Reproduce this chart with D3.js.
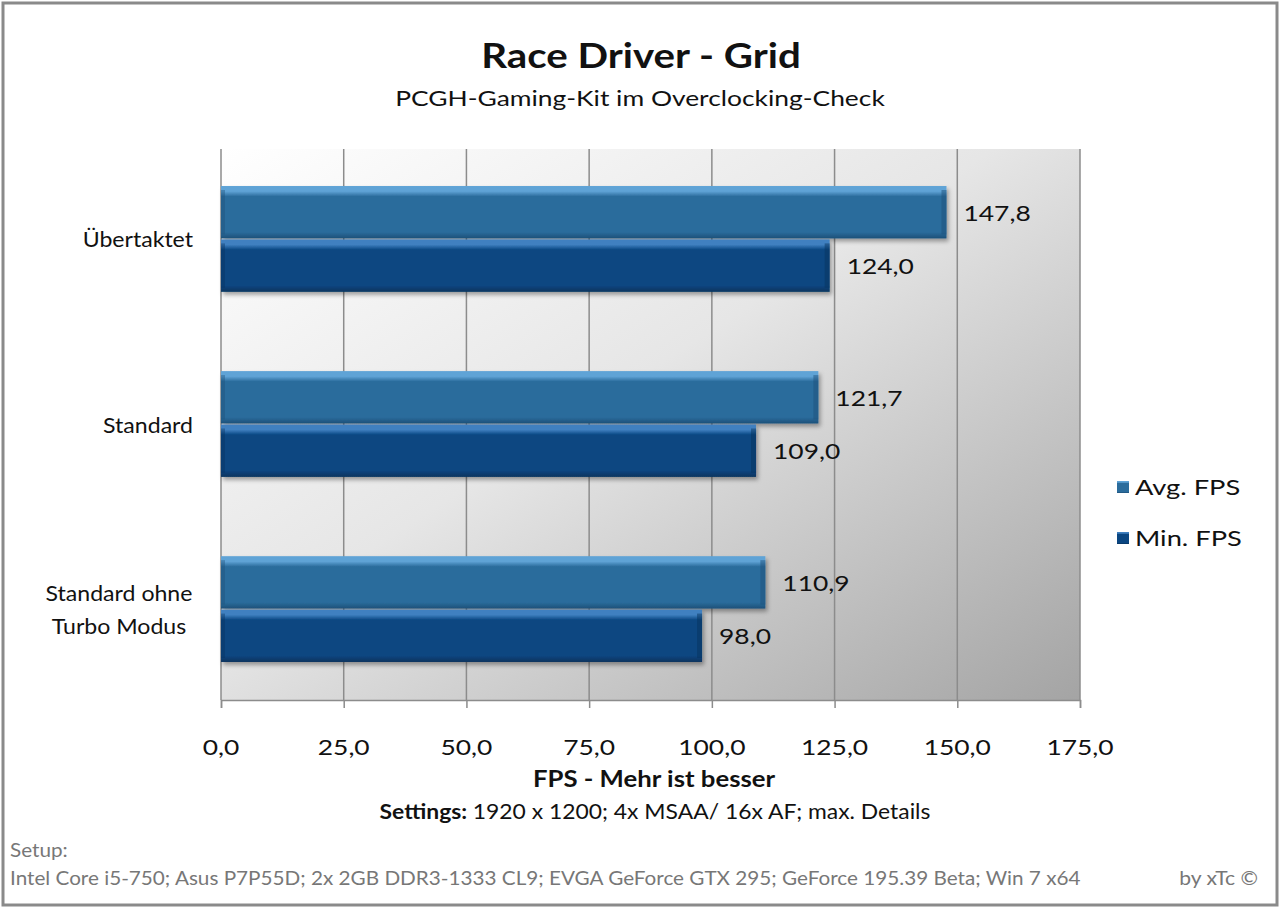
<!DOCTYPE html>
<html><head><meta charset="utf-8">
<script src="https://cdn.jsdelivr.net/npm/d3@7"></script>
<style>body{margin:0;background:#fff;} svg{display:block;font-family:Lato,"Open Sans",sans-serif;}</style>
</head><body><svg id="c" width="1280" height="910"></svg>
<script>
const categories = ["Übertaktet", "Standard", "Standard ohne|Turbo Modus"];
const seriesNames = ["Avg. FPS", "Min. FPS"];
const avgFps = [147.8, 121.7, 110.9];
const minFps = [124.0, 109.0, 98.0];
const tickValues = [0, 25, 50, 75, 100, 125, 150, 175];
const colors = {"Avg. FPS": ["#5fa3d6", "#2b6c9c", "#1d5079"], "Min. FPS": ["#3f80c0", "#0a4681", "#07335e"]};

const svg = d3.select("#c");
const defs = svg.append("defs");
svg.append("rect").attr("x", 3).attr("y", 3).attr("width", 1274).attr("height", 902)
  .attr("fill", "#fff").attr("stroke", "#8a8a8a").attr("stroke-width", 3);

const L = 221, R = 1080, T = 149, B = 700;
const x = d3.scaleLinear().domain([0, 175]).range([L, R]);
const y0 = d3.scaleBand().domain(categories).range([T, B]).paddingInner(0.423).paddingOuter(0.2);
const y1 = d3.scaleBand().domain(seriesNames).range([0, y0.bandwidth()]);

function txt(parent, tx, ty, size, sx, anchor, weight, fill) {
  return parent.append("text").attr("transform", `translate(${tx},${ty}) scale(${sx},1)`)
    .attr("text-anchor", anchor).attr("font-size", size).attr("font-weight", weight || "normal")
    .attr("fill", fill || "#111");
}

const bg = defs.append("linearGradient").attr("id", "bg").attr("x1", 0).attr("y1", 0).attr("x2", 1).attr("y2", 1);
bg.append("stop").attr("offset", "0%").attr("stop-color", "#ffffff");
bg.append("stop").attr("offset", "45%").attr("stop-color", "#e6e6e6");
bg.append("stop").attr("offset", "100%").attr("stop-color", "#a4a4a4");
svg.append("rect").attr("x", L).attr("y", T).attr("width", R - L).attr("height", B - T).attr("fill", "url(#bg)");

svg.append("g").selectAll("line").data(tickValues).join("line")
  .attr("x1", d => x(d)).attr("x2", d => x(d)).attr("y1", T).attr("y2", B)
  .attr("stroke", "#8c8c8c").attr("stroke-width", 1.5);

const fmt = d => d.toFixed(1).replace(".", ",");
const ax = svg.append("g").attr("transform", `translate(0,${B})`)
  .call(d3.axisBottom(x).tickValues(tickValues).tickFormat("").tickSize(8));
ax.select(".domain").attr("stroke", "#8c8c8c").attr("stroke-width", 1.5);
ax.selectAll(".tick line").attr("stroke", "#8c8c8c").attr("stroke-width", 1.5);
const tickG = svg.append("g");
tickValues.forEach(v => txt(tickG, x(v), 755, 22, 1.2, "middle").text(fmt(v)));

seriesNames.forEach((s, i) => {
  const g = defs.append("linearGradient").attr("id", "g" + i).attr("x1", 0).attr("y1", 0).attr("x2", 0).attr("y2", 1);
  const c = colors[s];
  g.append("stop").attr("offset", "0%").attr("stop-color", c[0]);
  g.append("stop").attr("offset", "10%").attr("stop-color", c[0]);
  g.append("stop").attr("offset", "20%").attr("stop-color", c[1]);
  g.append("stop").attr("offset", "88%").attr("stop-color", c[1]);
  g.append("stop").attr("offset", "100%").attr("stop-color", c[2]);
});
const sh = defs.append("filter").attr("id", "sh").attr("x", "-5%").attr("y", "-20%").attr("width", "110%").attr("height", "150%");
sh.append("feDropShadow").attr("dx", 2).attr("dy", 3).attr("stdDeviation", 2).attr("flood-color", "#000").attr("flood-opacity", 0.35);

const rows = [];
categories.forEach((c, i) => {
  rows.push({cat: c, s: seriesNames[0], v: avgFps[i], si: 0});
  rows.push({cat: c, s: seriesNames[1], v: minFps[i], si: 1});
});
const bars = svg.append("g").selectAll("g").data(rows).join("g");
bars.append("rect")
  .attr("x", x(0)).attr("y", d => y0(d.cat) + y1(d.s))
  .attr("width", d => x(d.v) - x(0)).attr("height", y1.bandwidth() - 1)
  .attr("fill", d => `url(#g${d.si})`).attr("filter", "url(#sh)");
bars.append("rect")
  .attr("x", d => x(d.v) - 5).attr("y", d => y0(d.cat) + y1(d.s) + 4)
  .attr("width", 5).attr("height", y1.bandwidth() - 9)
  .attr("fill", d => colors[d.s][2]).attr("opacity", 0.5);
bars.append("rect")
  .attr("x", x(0)).attr("y", d => y0(d.cat) + y1(d.s) + 4)
  .attr("width", 4).attr("height", y1.bandwidth() - 9)
  .attr("fill", d => colors[d.s][2]).attr("opacity", 0.4);

const valG = svg.append("g");
rows.forEach(d => txt(valG, x(d.v) + 17, y0(d.cat) + y1(d.s) + y1.bandwidth() / 2 + 8, 22, 1.2, "start").text(fmt(d.v)));

const catG = svg.append("g");
categories.forEach(c => {
  const parts = c.split("|");
  const cy = y0(c) + y0.bandwidth() / 2;
  if (parts.length === 1) {
    txt(catG, 193, cy + 8, 21, 1.1, "end").text(c);
  } else {
    parts.forEach((p, k) => txt(catG, 119, cy + (k - (parts.length - 1) / 2) * 33 + 8, 21, 1.1, "middle").text(p));
  }
});

txt(svg, 641, 68, 35, 1.15, "middle", "bold").text("Race Driver - Grid");
txt(svg, 640, 106, 22, 1.2, "middle").text("PCGH-Gaming-Kit im Overclocking-Check");
txt(svg, 654, 787, 22, 1.17, "middle", "bold").text("FPS - Mehr ist besser");
const st = txt(svg, 655, 819, 21, 1.09, "middle");
st.append("tspan").attr("font-weight", "bold").text("Settings: ");
st.append("tspan").text("1920 x 1200; 4x MSAA/ 16x AF; max. Details");

const lg = svg.append("g").selectAll("g").data(seriesNames).join("g")
  .attr("transform", (d, i) => `translate(1117,${481 + i * 51})`);
lg.append("rect").attr("width", 12).attr("height", 12).attr("fill", (d, i) => `url(#g${i})`);
lg.each(function (d) { txt(d3.select(this), 18, 14, 22, 1.24, "start").text(d); });

txt(svg, 10, 857, 19, 1.09, "start", "normal", "#777").text("Setup:");
txt(svg, 10, 885, 19, 1.09, "start", "normal", "#777")
  .text("Intel Core i5-750; Asus P7P55D; 2x 2GB DDR3-1333 CL9; EVGA GeForce GTX 295; GeForce  195.39 Beta; Win 7 x64");
txt(svg, 1258, 885, 19, 1.11, "end", "normal", "#777").text("by xTc ©");
</script></body></html>
